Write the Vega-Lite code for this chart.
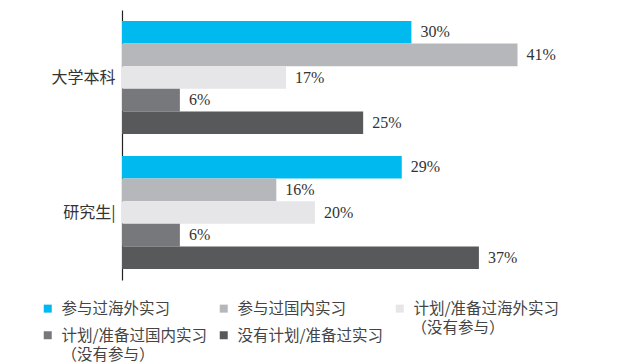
{
  "$schema": "https://vega.github.io/schema/vega-lite/v6.json",
  "width": 518,
  "height": 270,
  "autosize": {"type": "none"},
  "padding": {"left": 122, "top": 10, "right": 0, "bottom": 83},
  "background": "white",
  "config": {"view": {"stroke": null}},
  "data": {
    "values": [
      {"group": "大学本科", "cat": "参与过海外实习", "value": 0.30},
      {"group": "大学本科", "cat": "参与过国内实习", "value": 0.41},
      {"group": "大学本科", "cat": "计划/准备过海外实习", "value": 0.17},
      {"group": "大学本科", "cat": "计划/准备过国内实习", "value": 0.06},
      {"group": "大学本科", "cat": "没有计划/准备过实习", "value": 0.25},
      {"group": "研究生|", "cat": "参与过海外实习", "value": 0.29},
      {"group": "研究生|", "cat": "参与过国内实习", "value": 0.16},
      {"group": "研究生|", "cat": "计划/准备过海外实习", "value": 0.20},
      {"group": "研究生|", "cat": "计划/准备过国内实习", "value": 0.06},
      {"group": "研究生|", "cat": "没有计划/准备过实习", "value": 0.37}
    ]
  },
  "encoding": {
    "y": {
      "field": "group",
      "type": "nominal",
      "sort": ["大学本科", "研究生|"],
      "scale": {"paddingInner": 0.163, "paddingOuter": 0.0815},
      "axis": {
        "title": null,
        "ticks": false,
        "labelFont": "Noto Sans CJK SC",
        "labelFontSize": 16,
        "labelColor": "#333333",
        "labelPadding": 7,
        "domainColor": "#222222",
        "domainWidth": 1.2,
        "labelAngle": 0
      }
    },
    "yOffset": {
      "field": "cat",
      "type": "nominal",
      "sort": ["参与过海外实习", "参与过国内实习", "计划/准备过海外实习", "计划/准备过国内实习", "没有计划/准备过实习"],
      "scale": {"paddingInner": 0, "paddingOuter": 0}
    },
    "x": {
      "field": "value",
      "type": "quantitative",
      "scale": {"domain": [0, 0.537], "nice": false, "zero": true},
      "axis": null
    }
  },
  "resolve": {"scale": {"color": "independent"}, "legend": {"color": "independent"}},
  "layer": [
    {
      "mark": {"type": "bar"},
      "encoding": {
        "color": {
          "field": "cat",
          "type": "nominal",
          "sort": ["参与过海外实习", "参与过国内实习", "计划/准备过海外实习", "计划/准备过国内实习", "没有计划/准备过实习"],
          "scale": {
            "domain": ["参与过海外实习", "参与过国内实习", "计划/准备过海外实习", "计划/准备过国内实习", "没有计划/准备过实习"],
            "range": ["#00b9ef", "#b6b7ba", "#e6e6e8", "#77787b", "#58595b"]
          },
          "legend": {
            "orient": "none",
            "legendX": -82,
            "legendY": 284,
            "columns": 3,
            "direction": "horizontal",
            "title": null,
            "gridAlign": "all",
            "symbolType": "M-1,0.625H1V2.625H-1Z",
            "symbolSize": 64,
            "symbolStrokeWidth": 0,
            "symbolOpacity": 1,
            "labelFont": "Noto Sans CJK SC",
            "labelFontSize": 15.5,
            "labelColor": "#444444",
            "labelBaseline": "top",
            "labelLimit": 300,
            "labelOffset": 6,
            "columnPadding": 8,
            "rowPadding": 3
          }
        }
      }
    },
    {
      "mark": {"type": "text", "align": "left", "dx": 9, "font": "Liberation Serif", "fontSize": 16},
      "encoding": {
        "text": {"field": "value", "type": "quantitative", "format": ".0%"},
        "color": {
          "field": "cat",
          "type": "nominal",
          "sort": ["参与过海外实习", "参与过国内实习", "计划/准备过海外实习", "计划/准备过国内实习", "没有计划/准备过实习"],
          "scale": {
            "domain": ["参与过海外实习", "参与过国内实习", "计划/准备过海外实习", "计划/准备过国内实习", "没有计划/准备过实习"],
            "range": ["#333333", "#333333", "#333333", "#333333", "#333333"]
          },
          "legend": {
            "orient": "none",
            "legendX": -82,
            "legendY": 303,
            "columns": 3,
            "direction": "horizontal",
            "title": null,
            "gridAlign": "all",
            "symbolType": "M-1,0.625H1V2.625H-1Z",
            "symbolSize": 64,
            "symbolStrokeWidth": 0,
            "symbolOpacity": 0,
            "labelFont": "Noto Sans CJK SC",
            "labelFontSize": 15.5,
            "labelColor": "#444444",
            "labelBaseline": "top",
            "labelLimit": 300,
            "labelOffset": 6,
            "columnPadding": 60,
            "rowPadding": 3,
            "labelExpr": "datum.label == '计划/准备过海外实习' || datum.label == '计划/准备过国内实习' ? '（没有参与）' : ''"
          }
        }
      }
    }
  ]
}
